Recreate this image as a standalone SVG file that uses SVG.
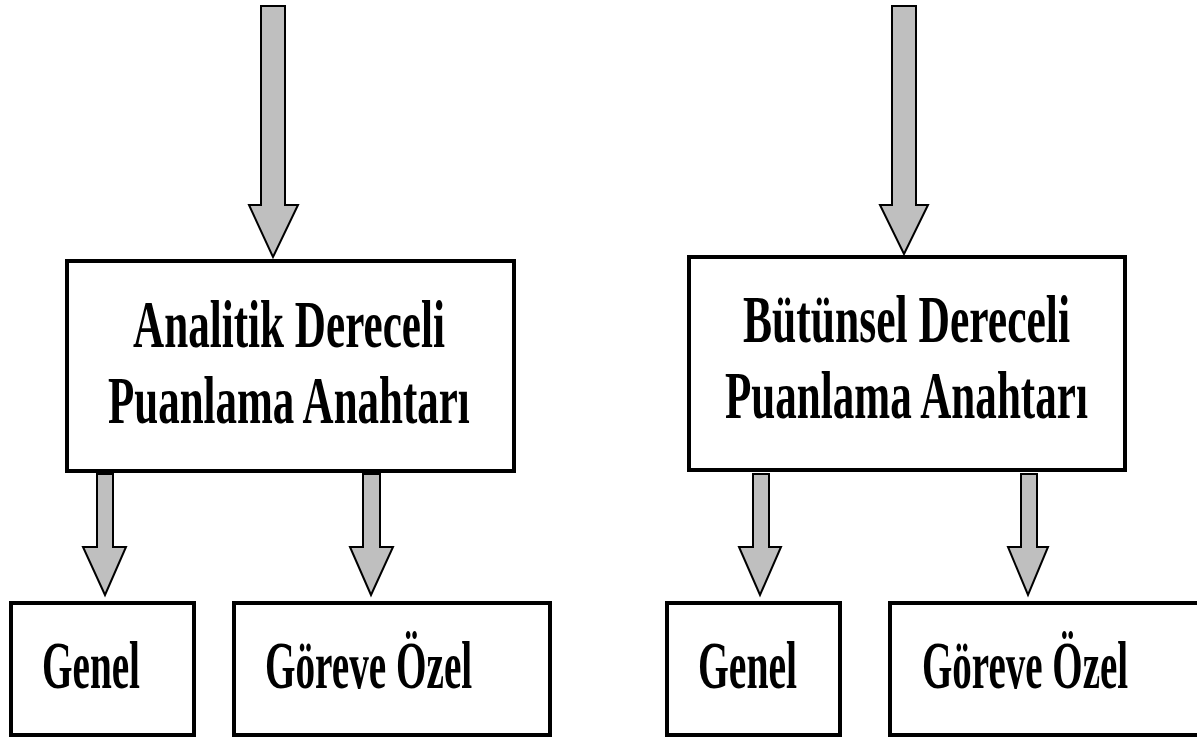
<svg xmlns="http://www.w3.org/2000/svg" width="1197" height="738" viewBox="0 0 1197 738">
<style>
.box{fill:#fff;stroke:#000;stroke-width:4}
.arr{fill:#bfbfbf;stroke:#000;stroke-width:2;stroke-linejoin:miter}
.t{font-family:"Liberation Serif","Times New Roman",serif;font-weight:bold;font-size:68px;fill:#000}
</style>
<rect width="1197" height="738" fill="#fff"/>
<g id="connectors">
<path class="arr" d="M261,6 H285 V205 H298 L273,257 L249,205 H261 Z"/>
<path class="arr" d="M892,6 H916 V205 H928 L904,254 L880,205 H892 Z"/>
<path class="arr" d="M97,474 H113 V547 H126 L105,595 L83,547 H97 Z"/>
<path class="arr" d="M363,474 H380 V547 H393 L371,595 L350,547 H363 Z"/>
<path class="arr" d="M753,474 H769 V547 H781 L760,595 L739,547 H753 Z"/>
<path class="arr" d="M1021,474 H1037 V547 H1048 L1028,595 L1008,547 H1021 Z"/>
</g>
<g id="analitik">
<rect class="box" x="67" y="261" width="447" height="210"/>
<text class="t" transform="translate(133,347) scale(0.56,1)" textLength="557" lengthAdjust="spacingAndGlyphs">Analitik Dereceli</text>
<text class="t" transform="translate(108,423) scale(0.56,1)" textLength="646" lengthAdjust="spacingAndGlyphs">Puanlama Anahtarı</text>
</g>
<g id="butunsel">
<rect class="box" x="689" y="257" width="436" height="213"/>
<text class="t" transform="translate(743,342) scale(0.56,1)" textLength="584" lengthAdjust="spacingAndGlyphs">Bütünsel Dereceli</text>
<text class="t" transform="translate(725,418) scale(0.56,1)" textLength="648" lengthAdjust="spacingAndGlyphs">Puanlama Anahtarı</text>
</g>
<g id="genel1">
<rect class="box" x="11" y="603" width="183" height="132"/>
<text class="t" transform="translate(42,688) scale(0.56,1)" textLength="175" lengthAdjust="spacingAndGlyphs">Genel</text>
</g>
<g id="gorevi1">
<rect class="box" x="234" y="603" width="316" height="132"/>
<text class="t" transform="translate(265,688) scale(0.56,1)" textLength="370" lengthAdjust="spacingAndGlyphs">Göreve Özel</text>
</g>
<g id="genel2">
<rect class="box" x="667" y="603" width="173" height="132"/>
<text class="t" transform="translate(698,688) scale(0.56,1)" textLength="177" lengthAdjust="spacingAndGlyphs">Genel</text>
</g>
<g id="gorevi2">
<rect class="box" x="890" y="603" width="320" height="132"/>
<text class="t" transform="translate(922,688) scale(0.56,1)" textLength="368" lengthAdjust="spacingAndGlyphs">Göreve Özel</text>
</g>
</svg>
